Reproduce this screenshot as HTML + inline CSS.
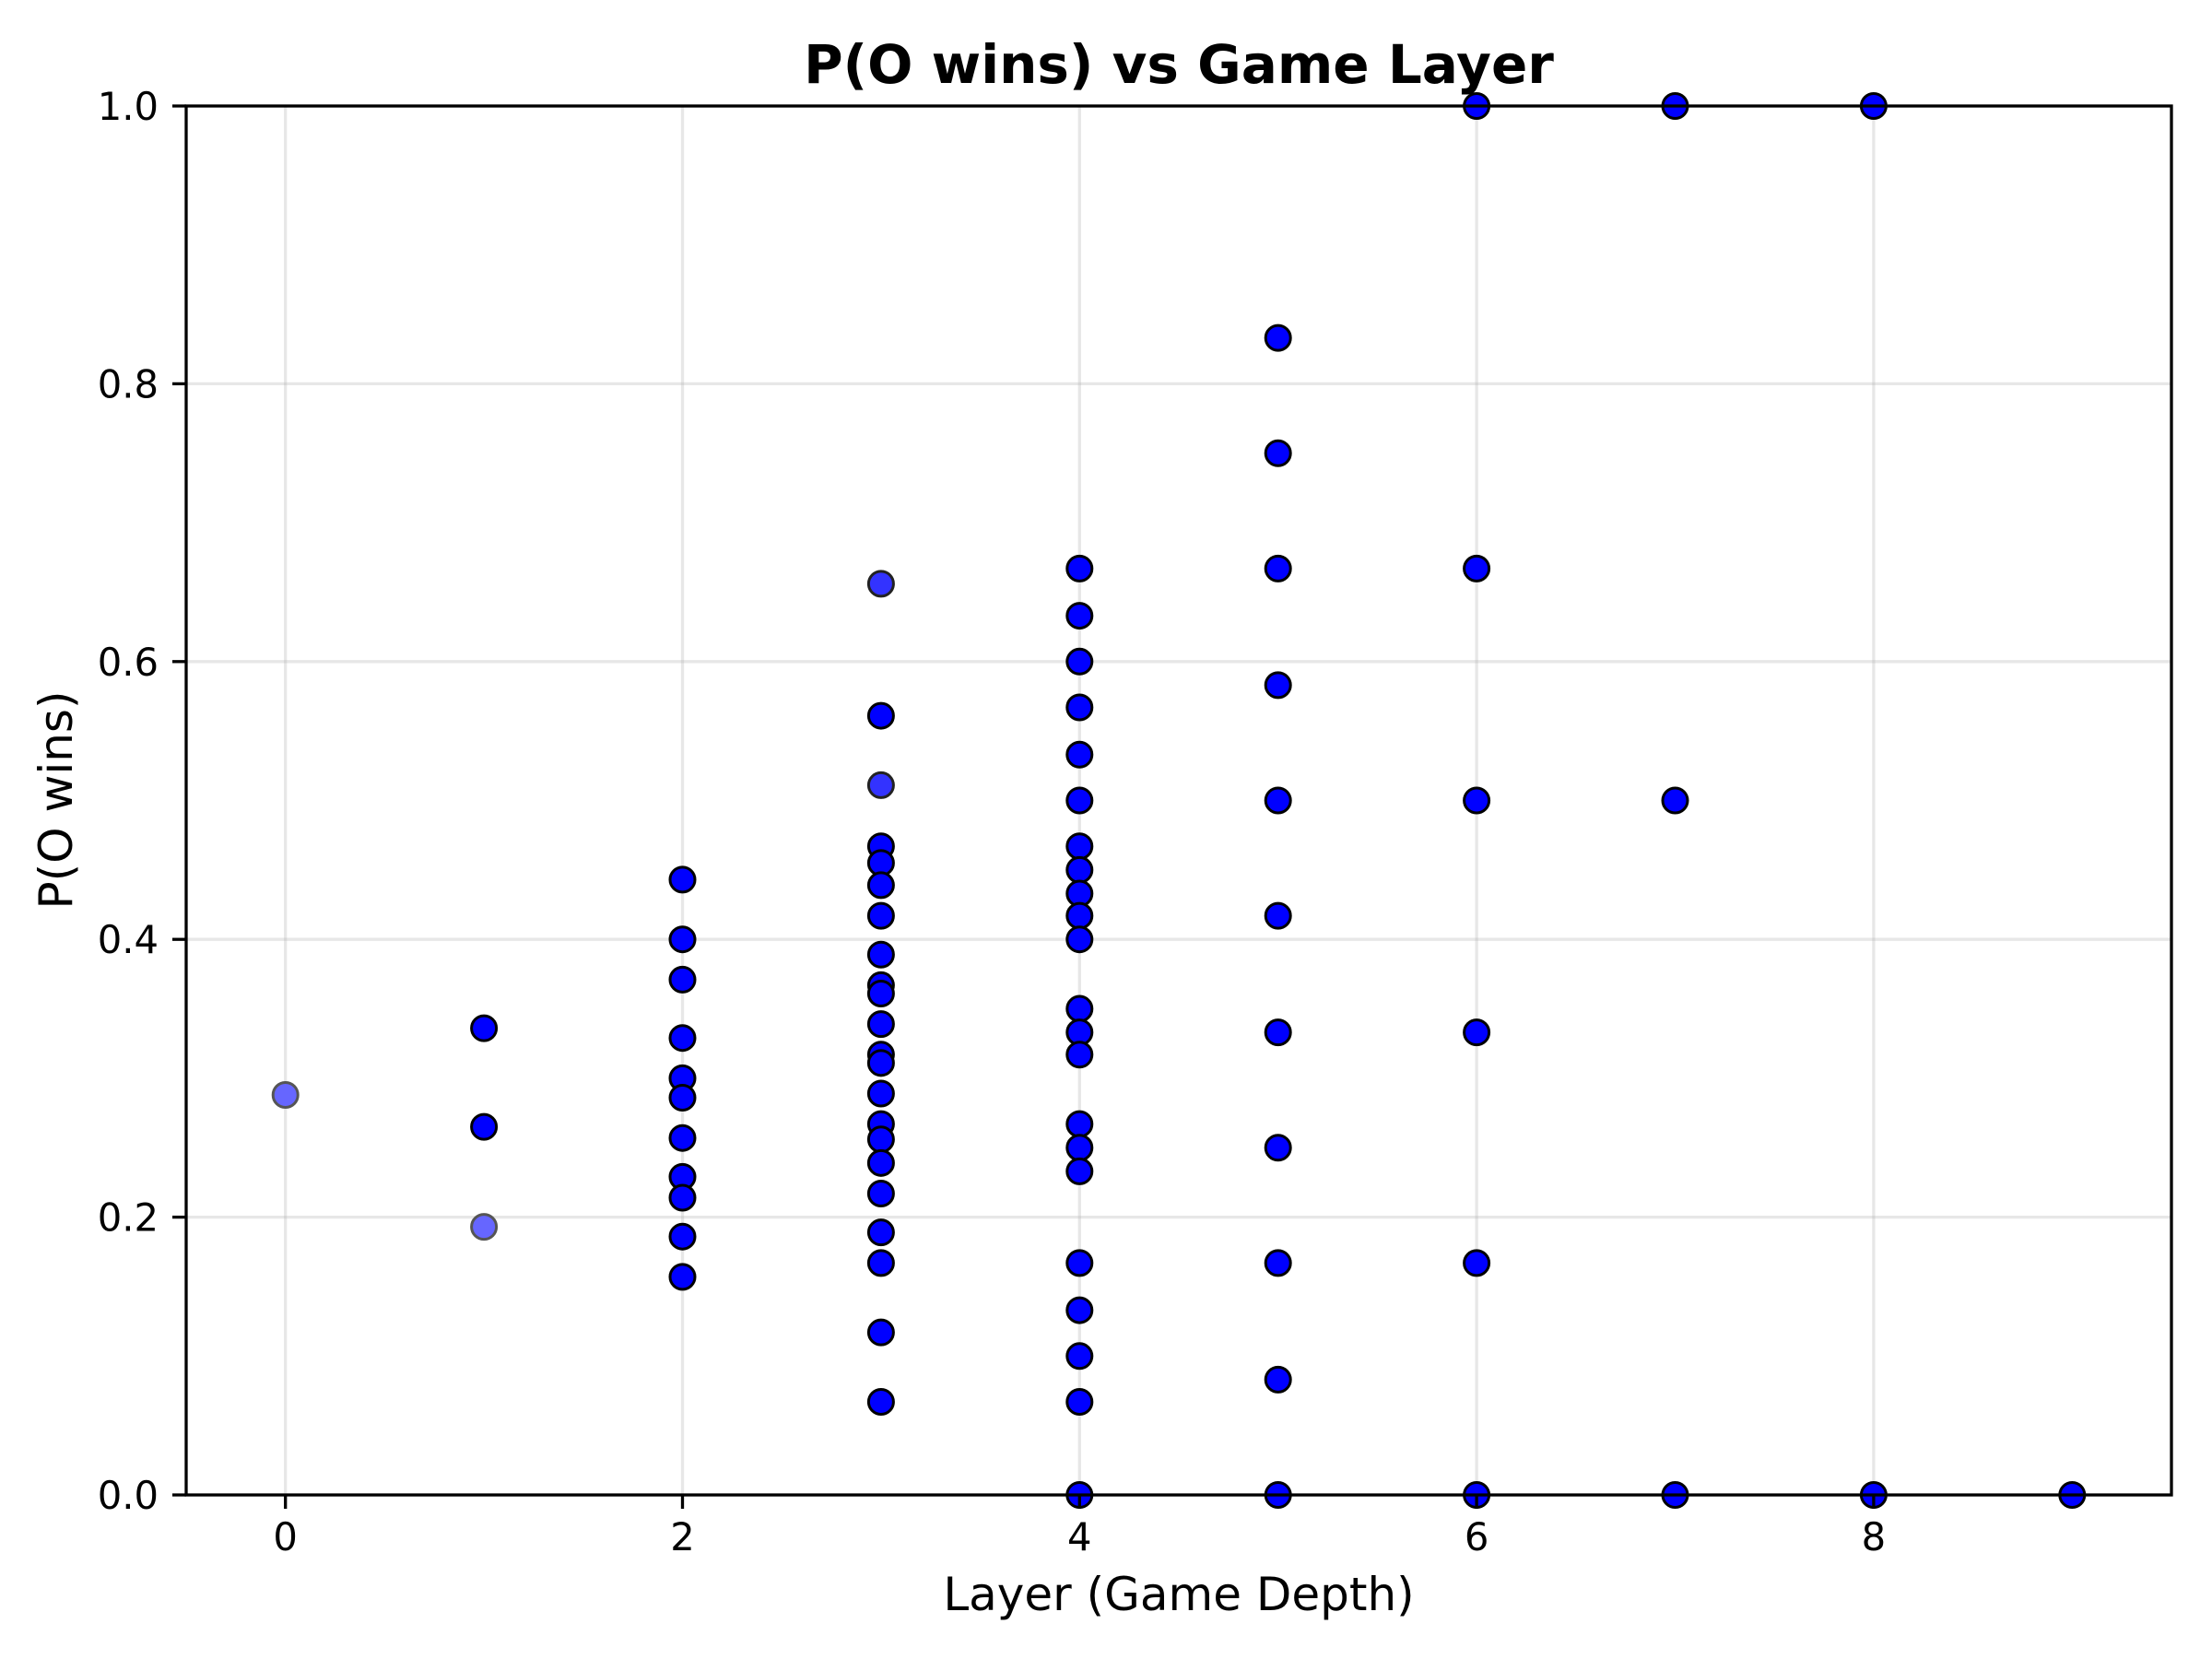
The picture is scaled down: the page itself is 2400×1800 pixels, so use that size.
<!DOCTYPE html>
<html><head><meta charset="utf-8"><style>
html,body{margin:0;padding:0;background:#fff;}
svg{display:block;font-family:"DejaVu Sans","Liberation Sans",sans-serif;}
</style></head><body>
<svg id="chart" width="2400" height="1800" viewBox="0 0 2400 1800">
<rect width="2400" height="1800" fill="#fff"/>
<g id="grid"></g>
<g id="pts"></g>
<rect x="202" y="115" width="2154" height="1507" fill="none" stroke="#000" stroke-width="3.3"/>
<g id="ticks"></g>
<text x="1279" y="90" text-anchor="middle" font-size="58" font-weight="bold">P(O wins) vs Game Layer</text>
<text x="1279" y="1747" text-anchor="middle" font-size="50">Layer (Game Depth)</text>
<text transform="translate(78,868) rotate(-90)" text-anchor="middle" font-size="50">P(O wins)</text>
</svg>
<script>
const layers=[0,1,1,1,2,2,2,2,2,2,2,2,2,2,2,3,3,3,3,3,3,3,3,3,3,3,3,3,3,3,3,3,3,3,3,3,3,4,4,4,4,4,4,4,4,4,4,4,4,4,4,4,4,4,4,4,4,4,4,5,5,5,5,5,5,5,5,5,5,5,6,6,6,6,6,6,7,7,7,8,8,9];
const probs=[0.288,0.336,0.265,0.193,0.443,0.4,0.371,0.329,0.3,0.286,0.257,0.229,0.214,0.186,0.157,
0.656,0.561,0.511,0.467,0.455,0.439,0.417,0.389,0.367,0.361,0.339,0.317,0.311,0.289,0.267,0.256,0.239,0.217,0.189,0.167,0.117,0.067,
0.667,0.633,0.6,0.567,0.533,0.5,0.467,0.45,0.433,0.417,0.4,0.35,0.333,0.317,0.267,0.25,0.233,0.167,0.133,0.1,0.067,0,
0.833,0.75,0.667,0.583,0.5,0.417,0.333,0.25,0.167,0.083,0,
1,0.667,0.5,0.333,0.167,0,1,0.5,0,1,0,0];
const lightPoints=[0,3];
const midPoints=[15,17];
const xTicks=[0,2,4,6,8];
const yTicks=[0,0.2,0.4,0.6,0.8,1.0];
const yTickLabels=["0.0","0.2","0.4","0.6","0.8","1.0"];
const NS="http://www.w3.org/2000/svg";
const X=v=>202+(v+0.5)*215.4;
const Y=v=>1622-v*1507;
const grid=document.getElementById('grid'),ticks=document.getElementById('ticks'),pts=document.getElementById('pts');
function mk(tag,attrs,parent){const e=document.createElementNS(NS,tag);for(const k in attrs)e.setAttribute(k,attrs[k]);parent.appendChild(e);return e;}
xTicks.forEach(t=>{
 const g=mk('line',{x1:X(t),x2:X(t),y1:115,y2:1622,stroke:'#b0b0b0','stroke-opacity':0.3,'stroke-width':3.3},grid);
 
 
 const l=mk('line',{x1:X(t),x2:X(t),y1:1622,y2:1637,stroke:'#000','stroke-width':3.3},ticks);
 
 
 const tx=mk('text',{x:X(t),y:1682,'text-anchor':'middle','font-size':41.7},ticks);
 tx.textContent=t;
 
 
});
yTicks.forEach((t,i)=>{
 const g=mk('line',{x1:202,x2:2356,y1:Y(t),y2:Y(t),stroke:'#b0b0b0','stroke-opacity':0.3,'stroke-width':3.3},grid);
 
 
 const l=mk('line',{x1:187,x2:202,y1:Y(t),y2:Y(t),stroke:'#000','stroke-width':3.3},ticks);
 
 
 const tx=mk('text',{x:172,y:Y(t)+15,'text-anchor':'end','font-size':41.7},ticks);
 tx.textContent=yTickLabels[i];
 
 
});
layers.forEach((L,i)=>{
 const light=lightPoints.includes(i), mid=midPoints.includes(i);
 const c=mk('circle',{cx:X(L),cy:Y(probs[i]),r:13.5,fill:light?'#6666ff':(mid?'#3333ff':'#0000ff'),stroke:light?'#555':(mid?'#222':'#000'),'stroke-width':3},pts);
 
 
});
</script>
</body></html>
